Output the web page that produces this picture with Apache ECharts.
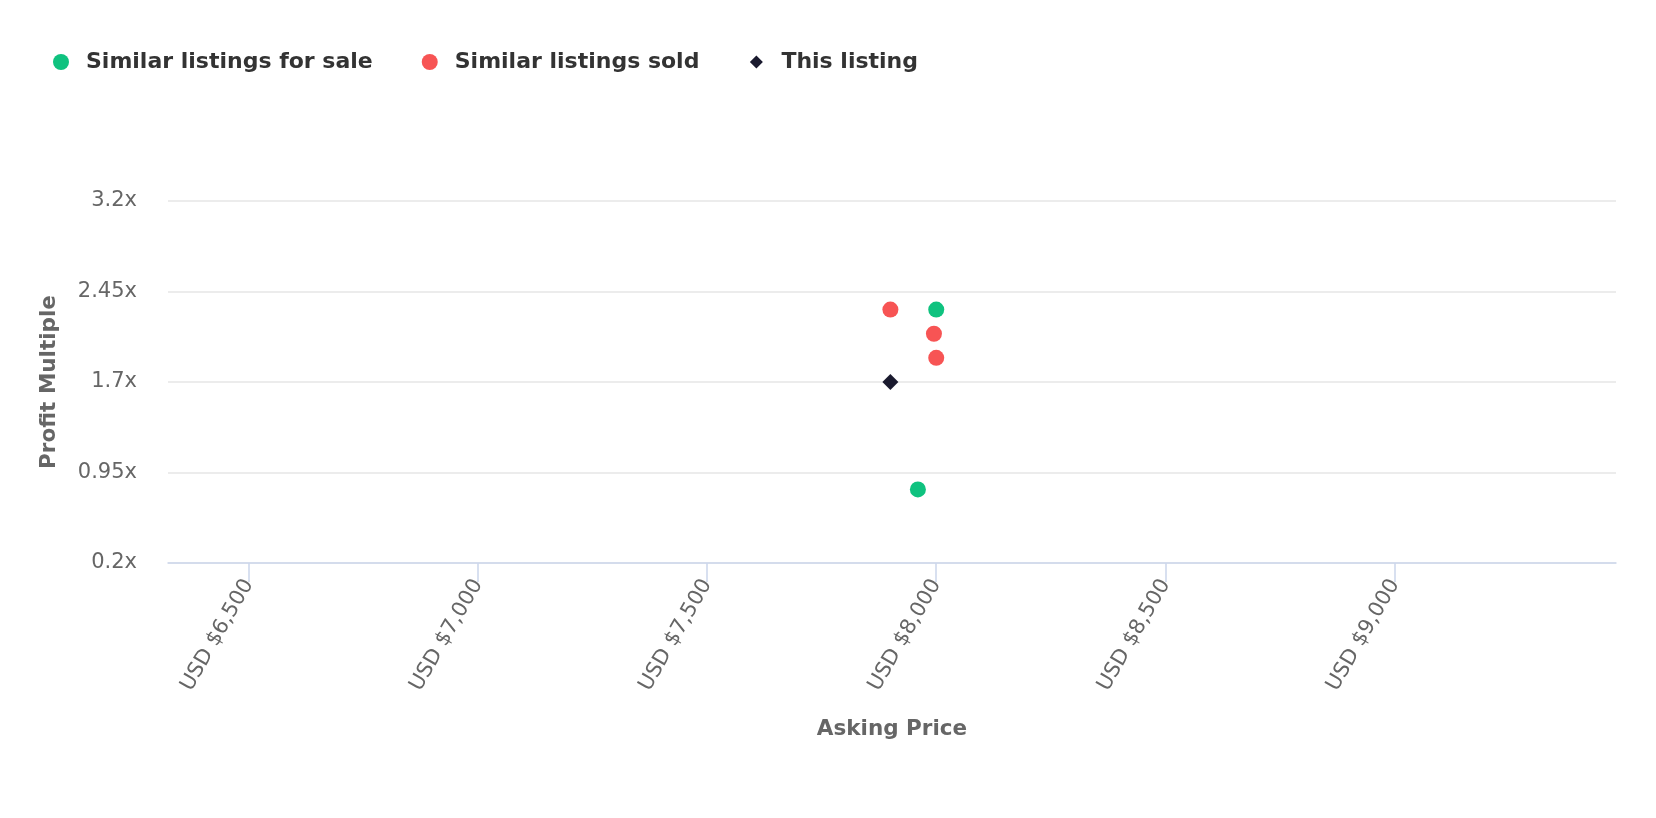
<!DOCTYPE html>
<html>
<head>
<meta charset="utf-8">
<script src="https://cdn.jsdelivr.net/npm/echarts@6/dist/echarts.min.js"></script>
<style>
html,body{margin:0;padding:0;background:#fff;}
#chart{width:1656px;height:818px;}
</style>
</head>
<body>
<div id="chart"></div>
<script>
// Data
const seriesNames = ['Similar listings for sale', 'Similar listings sold', 'This listing'];
const forSalePrice = [8000, 7960];
const forSaleMultiple = [2.3, 0.81];
const soldPrice = [7900, 7995, 8000];
const soldMultiple = [2.3, 2.1, 1.9];
const thisPrice = [7900];
const thisMultiple = [1.7];
const xTickValues = [6500, 7000, 7500, 8000, 8500, 9000];
const xMin = 6324, xMax = 9483;
const yMin = 0.2, yMax = 3.2, yStep = 0.75;

const zip = (xs, ys) => xs.map((x, i) => [x, ys[i]]);
const fmtUSD = v => 'USD $' + v.toLocaleString('en-US');

const chart = echarts.init(document.getElementById('chart'));
const font = '"DejaVu Sans", Verdana, sans-serif';
// small diamond legend icon inside a 16x16 box
const smallDiamond = 'path://M0,0M16,16M8,1.5L14.5,8L8,14.5L1.5,8Z';
chart.setOption({
  animation: false,
  textStyle: { fontFamily: font },
  legend: {
    left: 48, top: 46,
    itemWidth: 16, itemHeight: 16,
    itemGap: 49,
    textStyle: { fontFamily: font, fontSize: 22, fontWeight: 'bold', color: '#333333', padding: [0, 0, 0, 12] },
    data: [
      { name: seriesNames[0], icon: 'circle' },
      { name: seriesNames[1], icon: 'circle' },
      { name: seriesNames[2], icon: smallDiamond }
    ]
  },
  grid: { left: 168, right: 40, top: 201, bottom: 255 },
  xAxis: {
    type: 'value', min: xMin, max: xMax,
    name: 'Asking Price', nameLocation: 'middle', nameGap: 155,
    nameTextStyle: { fontFamily: font, fontSize: 21.5, fontWeight: 'bold', color: '#666666' },
    axisLine: { show: true, lineStyle: { color: '#ccd6eb', width: 1.5 } },
    axisTick: { show: true, length: 19, lineStyle: { color: '#ccd6eb', width: 1.5 }, customValues: xTickValues },
    axisLabel: { rotate: 60, margin: 18, fontFamily: font, fontSize: 21, color: '#666666',
      customValues: xTickValues, formatter: fmtUSD },
    splitLine: { show: false }
  },
  yAxis: {
    type: 'value', min: yMin, max: yMax, interval: yStep,
    name: 'Profit Multiple', nameLocation: 'middle', nameGap: 108, nameRotate: 90,
    nameTextStyle: { fontFamily: font, fontSize: 21.5, fontWeight: 'bold', color: '#666666' },
    axisLine: { show: false }, axisTick: { show: false },
    axisLabel: { margin: 31, fontFamily: font, fontSize: 21, color: '#666666',
      formatter: v => (+v.toFixed(2)) + 'x' },
    splitLine: { lineStyle: { color: '#e6e6e6', width: 1.5 } }
  },
  series: [
    { name: seriesNames[0], type: 'scatter', symbol: 'circle', symbolSize: 16,
      itemStyle: { color: '#0fc27f', opacity: 1 }, data: zip(forSalePrice, forSaleMultiple) },
    { name: seriesNames[1], type: 'scatter', symbol: 'circle', symbolSize: 16,
      itemStyle: { color: '#f75454', opacity: 1 }, data: zip(soldPrice, soldMultiple) },
    { name: seriesNames[2], type: 'scatter', symbol: 'diamond', symbolSize: 16,
      itemStyle: { color: '#1a1a2e', opacity: 1 }, data: zip(thisPrice, thisMultiple) }
  ]
});
</script>
</body>
</html>
